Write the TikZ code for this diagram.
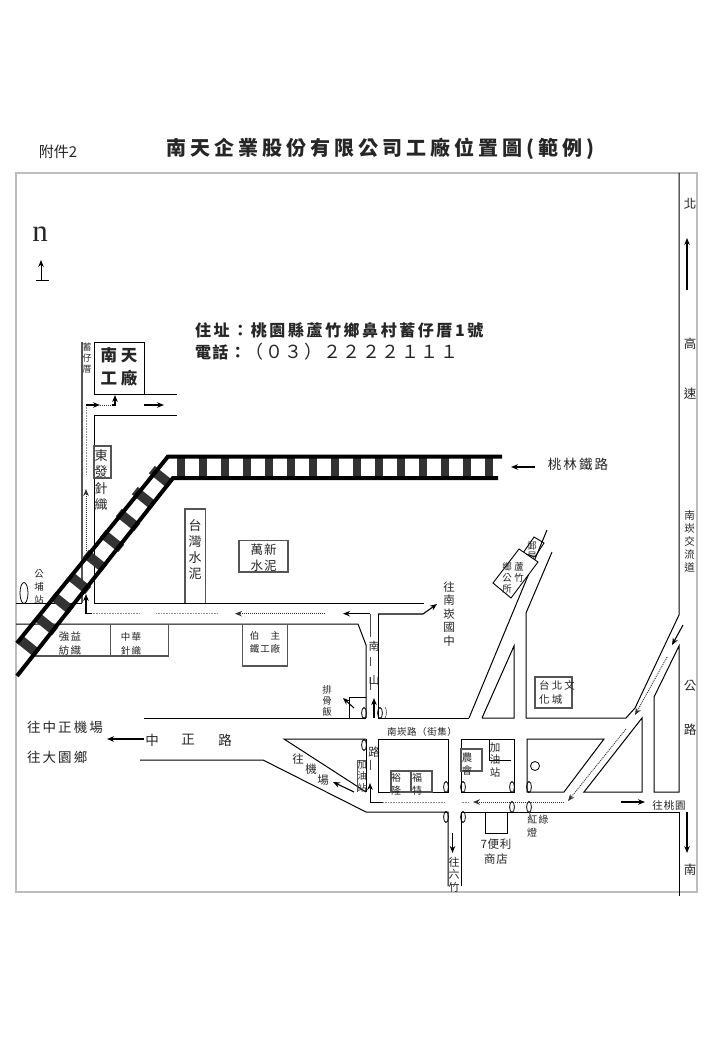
\documentclass[tikz,border=0pt]{standalone}
\usepackage{fontspec}
\usepackage{xcolor}
\usetikzlibrary{arrows.meta}
\setmainfont{Noto Sans CJK TC}
\newfontfamily\latinserif{Liberation Serif}
\definecolor{framegrey}{HTML}{BDBDBD}
\definecolor{roadgrey}{HTML}{555555}
\definecolor{tiedark}{HTML}{333333}
\newcommand{\fs}[2]{\fontsize{#1}{#2}\selectfont}
\newcommand{\ls}[1]{\addfontfeature{LetterSpace=#1}}
\tikzset{
  lab/.style={inner sep=0pt,text=black!85,align=center},
  road/.style={draw=black,line width=1pt},
  groad/.style={draw=roadgrey,line width=1.1pt},
  bbox/.style={draw=black,line width=.9pt},
  gbox/.style={draw=roadgrey,line width=1.1pt},
  arr/.style={draw=black,line width=1.1pt,-{Stealth[length=7pt,width=5.5pt]}},
  dots/.style={draw=black!80,line width=.9pt,dash pattern=on 1pt off 1pt},
  gdots/.style={draw=black!45,line width=1pt,dash pattern=on 1pt off .6pt},
  darr/.style={dots,-{Stealth[length=7pt,width=5.5pt]}},
  rail/.style={draw=black,line width=4pt},
  tie/.style={draw=tiedark,line width=8.5pt},
  dtie/.style={draw=tiedark,line width=9.5pt},
  oval/.style={draw=black,line width=.8pt},
}
\begin{document}
\begin{tikzpicture}[x=1pt,y=-1pt]
\useasboundingbox (0,0) rectangle (720,1040);
\fill[white] (0,0) rectangle (720,1040);
% frame
\draw[framegrey,line width=1.5pt] (16,173) rectangle (697,892);
% heading
\node[lab,font=\fs{15}{18}] (att) at (58,152) {附件2};
\node[lab,font=\fs{20}{24}\bfseries\ls{20}] (title) at (380,149) {南天企業股份有限公司工廠位置圖(範例)};
\node[lab,font=\latinserif\fs{31}{31},anchor=center] (north) at (40,234) {n};
\coordinate (nb) at (41,280);
\coordinate (nt) at (41,260);
\draw[arr,line width=.9pt] (nb) -- (nt);
\draw[black,line width=.9pt] (36,280) -- (49,280);
\node[lab,anchor=west,font=\fs{16}{20}\bfseries\ls{16}] (addr) at (195,330) {住址：桃園縣蘆竹鄉鼻村蓄仔厝1號};
\node[lab,anchor=west,font=\fs{18}{20}\ls{8}] (tel) at (195,352) {\fs{16}{20}\bfseries 電話：\fs{18}{20}\mdseries（０３）２２２２１１１};
% factory area
\draw[groad] (82,342) -- (82,603);
\draw[road] (94,415) -- (94,603);
\draw[bbox] (94,342) rectangle (144,394);
\draw[road] (144,394) -- (177,394);
\draw[road] (94,415) -- (177,415);
\node[lab,font=\fs{9}{11}] (xu) at (87,358) {蓄\\仔\\厝};
\node[lab,font=\fs{16.5}{23.5}\bfseries\ls{22}] (fac) at (119,367) {南天\\工廠};
\draw[gbox] (94,446) rectangle (111,478);
\node[lab,font=\fs{13}{16.6}] (dong) at (101,480) {東\\發\\針\\織};
% y=603/624 road
\draw[road] (16,603) -- (82,603);
\draw[road] (94,603) -- (424,603);
\draw[road] (16,624) -- (358,624) -- (366,645) -- (366,718);
\draw[groad] (378,614) -- (423,614);
\draw[road] (378,614) -- (378,718);
% buildings along road
\draw[gbox] (185,603) -- (185,509) -- (205.5,509) -- (205.5,603);
\node[lab,font=\fs{13}{16}] (tw) at (195,550) {台\\灣\\水\\泥};
\draw[gbox] (239,540.5) rectangle (288,572);
\node[lab,font=\fs{12.5}{16}\ls{8}] (wx) at (263.5,558) {萬新\\水泥};
\draw[oval] (24,593) ellipse [x radius=4,y radius=10.5];
\node[lab,font=\fs{9.5}{13}] (gp) at (39,587) {公\\埔\\站};
\draw[gbox] (35,656) -- (168.5,656) -- (168.5,624);
\draw[gbox] (110.5,624) -- (110.5,656);
\node[lab,font=\fs{10.5}{14}\ls{12}] (qy) at (70,644) {強益\\紡織};
\node[lab,font=\fs{9.5}{14}\ls{12}] (zh) at (131,644) {中華\\針織};
\draw[gbox] (242.5,624) -- (242.5,666) -- (287.5,666) -- (287.5,624);
\node[lab,font=\fs{9.5}{13}\ls{8}] (bz) at (265,642.5) {伯\hspace{1.2em}主\\鐵工廠};
% dotted route along y=614
\coordinate (r1) at (370,614);
\draw[black,line width=1.1pt,-{Stealth[length=7pt,width=5.5pt]}] (370,613.7) -- (343,613.7);
\draw[darr] (325,613.7) -- (235,613.7);
\draw[gdots] (218,613.7) -- (156,613.7);
\draw[gdots] (140,613.7) -- (92,613.7);
\draw[arr] (92,613.7) -- (86,613.7) -- (86,594);
\draw[darr] (86,551) -- (86,489);
\draw[gdots] (86,475) -- (86,405);
\draw[arr] (86,405) -- (100,405);
\draw[dots] (100,405) -- (112,405);
\draw[arr] (112,405) -- (115,405) -- (115,395);
\draw[arr] (144,405) -- (164,405);
% railway
\begin{scope}
\foreach \i in {0,...,14}{\draw[tie] ({181+22*\i},458) -- ({181+22*\i},477);}
\foreach \cx/\cy in {161/477,144/498,128/520,112/541,95/561,79/583,62/603,46/624,28/646}{
  \draw[dtie] ({\cx-9.2},{\cy-7.4}) -- ({\cx+9.2},{\cy+7.4});}
\draw[rail] (502,456.5) -- (168,456.5) -- (17,643);
\draw[rail] (498,478) -- (173,478) -- (17,676);
\end{scope}
\draw[arr] (535,467) -- (511,467);
\node[lab,font=\fs{13.5}{16}\ls{15}] (tl) at (578,464) {桃林鐵路};
% Nankan junior high
\draw[arr] (423,614) -- (437,604);
\node[lab,font=\fs{11.5}{13.5}] (nk) at (449,614) {往\\南\\崁\\國\\中};
% Nanshan road centre line
\draw[black!70,line width=1pt] (370,614) -- (370,637);
\draw[black!70,line width=1pt] (370,657) -- (370,666);
\draw[black!70,line width=1pt] (370,677) -- (370,690);
\node[lab,font=\fs{11}{13}] (ns1) at (374,646) {南};
\node[lab,font=\fs{11}{13}] (ns2) at (374,680) {山};
\node[lab,font=\fs{11.5}{13}] (ns3) at (374,752) {路};
\draw[black!70,line width=1pt] (370,760) -- (370,770);
% Zhongzheng road
\draw[road] (144,718) -- (366,718);
\draw[road] (378,718) -- (469,718);
\draw[road] (482,718) -- (514,718) -- (514,646) -- (482,718);
\draw[road] (526,718) -- (526,613) -- (552,552);
\draw[road] (469,718) -- (547,530);
\draw[road] (526,718) -- (626,718) -- (635,708) -- (679,615) -- (679,173);
\draw[arr] (144,739) -- (107,739);
\node[lab,font=\fs{13.5}{16}] (z1) at (152,740) {中};
\node[lab,font=\fs{13.5}{16}] (z2) at (188,740) {正};
\node[lab,font=\fs{13.5}{16}] (z3) at (225,740) {路};
\node[lab,anchor=west,font=\fs{13.5}{16}\ls{15}] (to1) at (27,727) {往中正機場};
\node[lab,anchor=west,font=\fs{13.5}{16}\ls{15}] (to2) at (27,757) {往大園鄉};
\draw[road] (140,760) -- (263,760) -- (366,812) -- (448,812) -- (448,886);
\draw[road] (461,886) -- (461,812) -- (679,812) -- (679,896);
% triangle to airport
\draw[road] (366,739) -- (284,739) -- (366,792);
\draw[road] (366,739) -- (366,792);
\node[lab,font=\fs{11.5}{13}] (ap1) at (298,759) {往};
\node[lab,font=\fs{11.5}{13}] (ap2) at (311,769) {機};
\node[lab,font=\fs{11.5}{13}] (ap3) at (323,780) {場};
\draw[arr] (354,792) -- (333,782);
\draw[gbox,line width=.9pt] (357,792) -- (357,760) -- (366,760);
\node[lab,font=\fs{9.5}{11.5}] (oil1) at (362,776) {加\\油\\站};
% blocks
\draw[road] (378,739) -- (448,739) -- (448,792) -- (378,792) -- cycle;
\draw[road] (461,792) -- (461,739) -- (514,739) -- (514,792) -- cycle;
\draw[road] (527,739) -- (604,739) -- (564,792) -- (527,792) -- cycle;
\draw[road] (642,718) -- (642,792) -- (584,792) -- cycle;
\draw[road] (654,792) -- (654,697) -- (679,646) -- (679,792) -- cycle;
\node[lab,font=\fs{9.5}{12}\ls{6}] (nk2) at (422,732) {南崁路（街集）};
\draw[gbox] (391,771) rectangle (411,792);
\draw[gbox] (411,771) rectangle (432,792);
\node[lab,font=\fs{10}{13}] (yl) at (396,784.5) {裕\\隆};
\node[lab,font=\fs{10}{13}] (ft) at (417,784.5) {福\\特};
\draw[gbox] (461,749) rectangle (482,771);
\node[lab,font=\fs{10.5}{13}] (nh) at (467,763.5) {農\\會};
\draw[road] (489,739) -- (489,760) -- (511,760);
\node[lab,font=\fs{10.5}{12.5}] (oil2) at (495,760) {加\\油\\站};
\draw[oval] (535,766) circle [radius=4.5];
% small shop and pork rib
\draw[bbox] (349,718) -- (349,697) -- (366,697);
\node[lab,font=\fs{9.5}{11.2}] (pg) at (327,701) {排\\骨\\飯};
\draw[arr] (354,708) -- (343,698);
\draw[arr] (374,718) -- (374,698);
% traffic lights
\foreach \ox/\oy in {364/713,380/713,364/745,446/787,463/787,446/817,463/817,512/787,529/787,512/807,529/807}{
  \draw[oval] (\ox,\oy) ellipse [x radius=2.4,y radius=5.5];}
\draw[black!70,line width=.6pt] (385,707) .. controls (387,710) and (387,715) .. (385,718);
\draw[black!70,line width=.6pt] (529,812) -- (533,822);
\node[lab,font=\fs{10}{13}\ls{12}] (hl1) at (538,820) {紅綠};
\node[lab,font=\fs{10}{13}] (hl2) at (532,833) {燈};
% convenience store
\draw[bbox] (485,812) -- (485,833) -- (507,833) -- (507,812);
\node[lab,font=\fs{11.5}{15}\ls{5}] (st) at (496,851.5) {7便利\\商店};
\draw[arr] (452.5,833) -- (452.5,853);
\node[lab,font=\fs{11}{12.5}] (lz) at (454,874.5) {往\\六\\竹};
% routes to the south
\draw[black,line width=.9pt,-{Stealth[length=7pt,width=5.5pt]}] (383,802) -- (370,802) -- (370,783);
\draw[gdots] (445,802) -- (383,802);
\draw[gdots] (469,802) -- (461,802);
\draw[darr] (564,802) -- (473,802);
\draw[darr] (626,729) -- (568,801);
\draw[darr] (667,657) -- (635,715);
\draw[arr] (683,625) -- (672,645);
\draw[arr] (621,802) -- (645,802);
\node[lab,font=\fs{10.5}{12}\ls{8}] (ty) at (669,805) {往桃園};
% freeway
\draw[arr] (687,290) -- (687,238);
\draw[arr] (687,812) -- (687,853);
\node[lab,font=\fs{12.5}{14}] (f1) at (690,204) {北};
\node[lab,font=\fs{12.5}{14}] (f2) at (690,344) {高};
\node[lab,font=\fs{12.5}{14}] (f3) at (690,394) {速};
\node[lab,font=\fs{10.5}{13.2}] (f4) at (689.5,541.5) {南\\崁\\交\\流\\道};
\node[lab,font=\fs{12.5}{14}] (f5) at (690,686) {公};
\node[lab,font=\fs{12.5}{14}] (f6) at (690,730) {路};
\node[lab,font=\fs{12.5}{14}] (f7) at (690,870) {南};
% township office
\draw[bbox] (534,537) -- (544,543) -- (535,557) -- (523,553) -- cycle;
\node[lab,font=\fs{9.5}{10.5}] (yj) at (532,551) {郵\\局};
\draw[bbox,fill=white] (519,549) -- (538,562) -- (511,598) -- (493,583) -- cycle;
\node[lab,font=\fs{9.5}{11}] (lz1) at (519,572.5) {蘆\\竹};
\node[lab,font=\fs{9.5}{11}] (lz2) at (507,578) {鄉\\公\\所};
% culture centre
\draw[gbox] (535,677) rectangle (572,708);
\node[lab,anchor=west,font=\fs{10.5}{14}\ls{20}] (tb) at (539,692) {\parbox{3.6em}{\raggedright 台北文\\化城}};
\end{tikzpicture}
\end{document}
